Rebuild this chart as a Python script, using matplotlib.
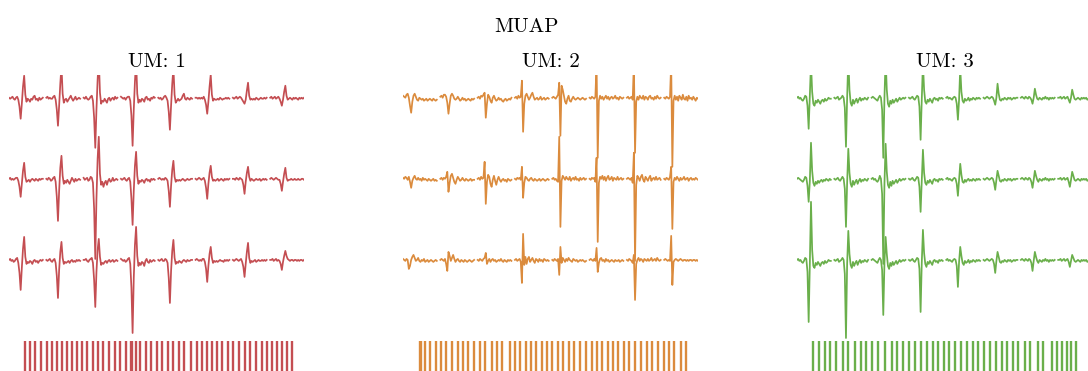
import numpy as np
import matplotlib.pyplot as plt

plt.rcParams['font.family'] = 'serif'
plt.rcParams['font.serif'] = ['cmr10']
plt.rcParams['mathtext.fontset'] = 'cm'
plt.rcParams['axes.unicode_minus'] = False

units = ['UM: 1', 'UM: 2', 'UM: 3']
colors = ['#C44E52', '#DB8B3D', '#6AAF4B']

# Averaged MUAP per electrode (3 rows x 8 columns), amplitude in a.u.
um1_muap = [
    [[0, -1, 0, 1, -1, -2, 0, 1, -2, -9, -21, -6, 11, 22, 3, -4, -1, -2, -4, -1, -2, 1, 2, -2, -1, -3, 0, -2, -1, 0],
     [0, 1, -1, 0, -1, -1, 1, 2, -2, -12, -28, -8, 14, 32, 4, -5, -2, -1, -4, -2, 0, 2, -1, -3, -1, 1, -2, -1, 0, -1],
     [0, -1, 1, -1, -2, -1, 1, 2, -3, -20, -50, -12, 18, 40, 5, -6, -3, -4, -1, -3, -5, -1, 0, -3, -1, 0, -2, 1, -1, 0],
     [1, 0, -1, 0, -2, 0, 1, 1, -3, -18, -48, -12, 16, 38, 4, -5, -2, -4, -1, -2, -4, 0, 1, -2, -1, -3, 0, -1, 1, 0],
     [0, -1, 0, -2, -1, 1, 2, 0, -3, -14, -32, -8, 14, 30, 3, -5, -3, -1, -3, -2, -1, 2, 4, -1, -2, 0, -1, -2, 0, -1],
     [0, 0, -1, 0, -1, 0, -1, 1, -2, -7, -16, -4, 11, 23, 3, -3, -1, -2, -2, -1, -2, 0, -1, -2, -1, -1, 0, -1, 0, -1],
     [0, -1, 0, 1, -1, 0, 1, 0, -2, -4, -6, -2, 7, 15, 2, -2, -1, -2, -1, -2, 0, -1, -2, -1, 0, -1, -1, 0, -1, 0],
     [0, 1, -1, 0, 1, -1, 0, 1, -1, -4, -8, -2, 6, 12, 2, -2, -1, 0, -1, -2, 0, -1, 0, -1, -2, 0, -1, 0, -1, 0]],
    [[0, 1, -1, 0, -1, 0, 1, 1, -2, -8, -18, -5, 8, 16, 2, -3, -2, -1, -3, -1, 0, -1, -2, 0, -1, -2, 0, -1, 0, 0],
     [0, -1, 1, 0, -2, -1, 1, 2, -3, -18, -42, -12, 11, 23, 3, -5, -2, -4, -1, -3, -5, -2, 1, -1, -3, 0, -2, -1, 0, -1],
     [1, -1, 0, 1, -2, -1, 2, 1, -4, -30, -80, -20, 20, 42, 5, -6, -3, -8, -4, -2, -6, -2, 0, -3, -2, 1, -2, -1, 0, -1],
     [0, -1, 0, 1, -1, -2, 0, 1, -3, -20, -46, -12, 13, 27, 3, -5, -2, -3, -1, -2, -4, -1, 0, -2, -1, -3, 0, -1, 0, -1],
     [0, 1, 0, -1, 0, -1, 1, 0, -2, -12, -28, -7, 9, 18, 2, -3, -1, -2, -1, -2, -1, 0, -1, -2, -1, 0, -1, -1, 0, 0],
     [0, -1, 0, 1, 0, -1, 0, 1, -2, -9, -20, -5, 6, 13, 2, -2, -1, -2, -1, 0, -2, -1, 0, -1, -2, 0, -1, 0, -1, 0],
     [0, 0, -1, 1, 0, -1, 1, 0, -1, -6, -15, -3, 6, 12, 2, -2, 0, -1, -2, -1, 0, -1, -1, 0, -2, -1, 0, -1, 0, -1],
     [0, 1, 0, -1, 0, 1, 0, -1, -1, -5, -12, -3, 5, 11, 1, -2, -1, -1, 0, -1, -1, 0, -1, -1, 0, -1, -1, 0, 0, -1]],
    [[0, 1, -1, 0, -2, -1, 1, 2, -3, -13, -30, -8, 11, 23, 3, -4, -2, -3, -1, -2, -4, -1, 0, -2, -1, -3, -1, 0, -1, 0],
     [0, -1, 0, 1, -1, -2, 0, 1, -3, -16, -38, -10, 8, 18, 2, -4, -2, -3, -2, -1, -3, -1, 0, -2, -1, -2, 0, -1, 0, -1],
     [0, 0, 1, -1, -2, 0, 1, 2, -3, -20, -47, -12, 10, 21, 3, -5, -3, -4, -2, -1, -3, -1, 0, -2, -1, 0, -2, -1, 0, -1],
     [1, 0, -1, 0, -2, -1, 1, 2, -4, -28, -73, -18, 15, 33, 4, -6, -3, -5, -2, -3, -6, -1, 1, -2, -3, 0, -2, -1, 0, -1],
     [0, -1, 0, 1, -1, -1, 1, 0, -3, -18, -43, -11, 9, 20, 2, -4, -2, -3, -1, -2, -3, -1, 0, -1, -2, 0, -1, -1, 0, 0],
     [0, 1, 0, -1, 0, -1, 1, 1, -2, -9, -22, -6, 6, 13, 2, -3, -1, -2, -1, -2, -1, 0, -1, -1, -2, 0, -1, 0, -1, 0],
     [0, -1, 0, 1, 0, -1, 0, 1, -2, -7, -17, -4, 8, 17, 2, -3, -1, -2, -1, 0, -2, -1, 0, -1, -1, 0, -1, 0, -1, 0],
     [0, 0, 1, -1, 0, 1, -1, 0, -1, -4, -10, -2, 4, 9, 4, 1, 0, -1, 0, 0, -1, 0, 0, -1, 0, -1, 0, 0, -1, 0]],
]

um2_muap = [
    [[2, 1, 0, 3, 4, 0, -8, -15, -4, 2, 4, 1, -2, -3, 0, -1, -2, -1, -3, -2, -1, -3, -2, -1, -2, -3, -1, -2, -3, -2],
     [1, 2, 0, 3, 3, 1, -5, -16, -6, 2, 4, 2, -1, -2, -1, 1, -1, -3, -2, 0, -2, -1, -3, -2, -1, -2, -3, -1, -2, -1],
     [0, 1, -1, 2, 1, 3, 5, -20, -6, 3, 1, -3, -5, 0, 2, -1, -3, -2, 0, -2, -1, -3, -4, -2, -1, -3, -2, -1, -2, 0],
     [0, 1, -1, 2, 0, 1, 17, -34, -6, 2, 4, 1, -2, 0, 3, 5, 1, -2, -1, 0, -2, -1, 1, -2, -1, 0, -2, -1, 0, -1],
     [0, 1, 0, -1, 1, 3, 15, -38, 12, 8, 2, -4, -6, -1, 2, -3, -4, -1, 1, -1, -2, -1, 0, -1, -2, -1, 0, -1, -2, -1],
     [0, -1, 1, 0, -1, 1, 35, -60, -3, 2, -1, 1, -2, 0, 2, -1, 1, -2, 0, 1, -1, 0, 2, -1, 0, -2, 1, 0, -1, 0],
     [0, 1, -1, 0, 1, -2, 35, -55, -4, 1, -2, 2, 0, -1, 2, -2, 1, 0, -2, 1, 2, -1, 0, -2, 1, -1, 2, 0, -1, 0],
     [0, -1, 1, 0, -1, 1, 35, -69, -3, 2, -2, 1, -3, 2, 0, -2, 3, -1, -2, 1, -3, 2, -1, 0, -2, 1, -1, -3, 0, -1]],
    [[1, 0, 2, 1, -1, 2, -3, -9, -2, 1, 3, 0, -1, 1, -1, 0, -2, 1, -1, 0, -1, -2, 0, -1, -2, -1, 0, -2, -1, -2],
     [0, 1, -1, 1, 0, 2, 7, -13, -4, 3, 5, 1, -3, -5, -1, 2, 0, -2, -1, 1, -1, -2, 0, -1, -2, -1, 0, -2, -1, -1],
     [0, 1, -1, 2, 0, 1, 17, -25, -3, 4, 2, -5, -8, -1, 3, -2, -6, -1, 2, -1, -3, -1, 0, -2, -1, -3, 0, -1, -2, -1],
     [0, -1, 1, 0, 1, -1, 12, -19, -4, 2, 1, -1, -2, 0, 1, -1, -2, 0, -1, -2, -1, 0, -2, -1, 0, -1, -2, -1, 0, -1],
     [0, 1, -1, 0, -2, -3, 42, -48, -2, 3, 1, -1, 2, 0, -1, 2, -2, 0, 1, -1, 2, -1, 0, -2, 1, -1, 0, 1, -1, 0],
     [0, -1, 1, 0, 1, -3, 21, -63, -4, 2, 0, 3, -1, 2, -2, 1, 3, -1, 0, 2, -2, 1, 0, -1, 2, -1, 0, 1, -1, 0],
     [0, 1, 0, -1, 1, -4, 26, -82, -6, 3, 1, -2, 2, 4, -1, -3, 2, 0, -2, 1, 3, -2, 0, 1, -1, 2, -1, 0, 1, -1],
     [0, -1, 1, 0, -1, 2, 12, -50, -3, 1, -1, 2, 0, -2, 1, -1, 0, 2, -1, 0, 1, -2, 0, 1, -1, 0, -1, 1, 0, -1]],
    [[1, 0, -1, 1, 0, -9, -6, 0, 3, 5, 2, -1, 0, 2, -1, -2, 0, -1, 1, -2, -1, 0, -2, -1, 0, -1, -2, -1, 0, -1],
     [0, 1, 0, -1, 1, -4, -11, 8, 4, -1, 2, 5, 1, -2, 0, 1, -1, -2, 0, -1, -2, 0, -1, -2, -1, 0, -1, -2, -1, 0],
     [0, -1, 1, 0, -1, 1, 2, 7, -4, -1, 1, -2, 0, 1, -1, 0, -2, -1, 0, -1, 1, -1, -2, 0, -1, -2, 0, -1, 0, -1],
     [0, 1, -1, 0, 1, -2, -23, 26, -5, 3, -4, 1, 3, -2, 0, 2, -1, -3, 1, 0, -2, 1, -1, 0, -2, 1, 0, -1, 0, -1],
     [0, -1, 1, 0, -1, 1, -15, 13, -3, 2, 0, -2, 1, -1, 2, 0, -1, -2, 1, 0, -1, 0, -2, -1, 0, -1, 0, -1, -2, -1],
     [0, 1, 0, -1, 1, -1, 12, -12, -3, 1, 2, -1, 0, -2, 1, -1, 0, -2, -1, 0, -1, -2, 0, -1, -1, 0, -2, -1, 0, -1],
     [0, -1, 1, 0, -1, -3, 5, -40, -4, 0, 2, -1, 1, 0, -2, 1, 0, -1, 1, -1, 0, 2, -1, 0, 1, -1, 2, 0, -1, 0],
     [0, 1, 0, -1, 0, -1, 24, -25, -2, 0, 1, 0, -1, 0, 1, 0, -1, 0, 0, -1, 0, -1, 0, 0, -1, 0, 0, -1, 0, -1]],
]

um3_muap = [
    [[0, 1, -1, 0, -2, -3, -1, 2, 1, -8, -31, 2, 35, 6, -6, -8, -3, -5, -2, -4, -6, -3, -2, -4, -1, -3, -2, 0, -1, -1],
     [0, -1, 0, 1, -2, -1, 0, 2, 0, -10, -49, 0, 40, 8, -5, -8, -2, -6, -3, -1, -5, -2, 0, -3, -1, -2, 0, -1, -2, 0],
     [0, 1, 0, -1, -2, -3, 0, 2, 0, -12, -60, 0, 40, 8, -6, -9, -3, -6, -2, -5, -3, -1, -4, -2, 0, -2, -1, 0, -1, 0],
     [0, -1, 0, 1, -1, -2, 0, 2, 1, -9, -42, -2, 35, 8, -4, -6, -2, -4, -1, -3, -5, -1, 0, -2, -1, -3, 0, -1, 0, -1],
     [0, 1, -1, 0, -1, -2, 0, 1, 0, -6, -22, -2, 30, 6, -3, -5, -1, -3, -2, 0, -3, -1, -2, 0, -1, -2, 0, -1, 0, -1],
     [0, -1, 0, 1, 0, -1, 0, 1, 0, -3, -7, 0, 14, 4, -2, -3, -1, -2, 0, -1, -2, 0, -1, 0, -2, -1, 0, -1, 0, 0],
     [0, 1, 0, -1, 1, 0, -1, 1, 0, -2, -6, 0, 9, 3, -1, -2, 0, -1, -2, 0, -1, 1, -1, 0, -2, 0, -1, 0, -1, 0],
     [0, 0, 1, -1, 0, 1, -1, 0, 1, -2, -5, 0, 8, 3, -1, -2, -1, 0, -1, -2, 0, -1, 0, -1, 0, -2, -1, 0, -1, 0]],
    [[0, 1, 0, -1, -2, -3, -1, 2, 1, -7, -23, -2, 36, 8, -4, -7, -3, -5, -2, -4, -2, -1, -3, -1, -2, 0, -1, -2, 0, -1],
     [0, -1, 0, 1, -1, -2, 0, 2, 0, -10, -48, -4, 30, 6, -5, -8, -2, -6, -3, -1, -5, -2, 0, -3, -1, -2, 0, -1, -2, 0],
     [0, 1, -1, 0, -2, -3, -1, 3, 0, -15, -85, -5, 35, 7, -6, -9, -3, -7, -2, -5, -3, -1, -4, -2, 0, -2, -1, 0, -1, 0],
     [0, -1, 0, 1, -1, -2, 0, 2, 1, -8, -33, -2, 29, 6, -4, -6, -2, -4, -1, -3, -5, -1, 0, -2, -1, -3, 0, -1, 0, -1],
     [0, 1, -1, 0, -1, -2, 0, 1, 0, -5, -17, -1, 15, 4, -3, -4, -1, -3, -1, 0, -2, -1, -2, 0, -1, -2, 0, -1, 0, -1],
     [0, -1, 0, 1, 0, -1, 0, 1, 0, -4, -11, -1, 8, 3, -2, -3, -1, -2, 0, -1, -2, 0, -1, 0, -2, -1, 0, -1, 0, 0],
     [0, 1, 0, -1, 1, 0, -1, 1, 0, -3, -9, -1, 8, 3, -1, -3, 0, -1, -2, 0, -1, 1, -1, 0, -2, 0, -1, 0, -1, 0],
     [0, 0, 1, -1, 0, 1, -1, 0, 1, -3, -8, -1, 7, 3, -1, -2, -1, 0, -1, -2, 0, -1, 0, -1, 0, -2, -1, 0, -1, 0]],
    [[0, 1, -1, 0, -2, -3, -1, 2, 1, -12, -62, -4, 58, 10, -6, -8, -3, -5, -2, -4, -6, -3, -2, -4, -1, -3, -2, 0, -1, -1],
     [0, -1, 0, 1, -2, -1, 0, 2, 0, -14, -78, -4, 29, 6, -5, -8, -2, -6, -3, -1, -5, -2, 0, -3, -1, -2, 0, -1, -2, 0],
     [0, 1, 0, -1, -2, -3, 0, 2, 0, -10, -55, -3, 23, 6, -6, -9, -3, -6, -2, -5, -3, -1, -4, -2, 0, -2, -1, 0, -1, 0],
     [0, -1, 0, 1, -1, -2, 0, 2, 1, -9, -52, -3, 30, 7, -4, -7, -2, -4, -1, -3, -5, -1, 0, -2, -1, -3, 0, -1, 0, -1],
     [0, 1, -1, 0, -1, -2, 0, 1, 0, -6, -27, -2, 13, 4, -3, -5, -1, -3, -2, 0, -3, -1, -2, 0, -1, -2, 0, -1, 0, -1],
     [0, -1, 0, 1, 0, -1, 0, 1, 0, -4, -13, -1, 8, 3, -2, -3, -1, -2, 0, -1, -2, 0, -1, 0, -2, -1, 0, -1, 0, 0],
     [0, 1, 0, -1, 1, 0, -1, 1, 0, -3, -11, -1, 8, 3, -1, -3, 0, -1, -2, 0, -1, 1, -1, 0, -2, 0, -1, 0, -1, 0],
     [0, 0, 1, -1, 0, 1, -1, 0, 1, -2, -7, -1, 5, 2, -1, -2, -1, 0, -1, -2, 0, -1, 0, -1, 0, -2, -1, 0, -1, 0]],
]

# Discharge times (s)
um1_spikes = [0.54, 0.71, 0.88, 1.07, 1.27, 1.44, 1.61, 1.78, 1.95, 2.12, 2.31, 2.48,
              2.65, 2.85, 3.02, 3.19, 3.38, 3.58, 3.75, 3.94, 4.11, 4.17, 4.28, 4.43,
              4.62, 4.79, 4.99, 5.16, 5.38, 5.55, 5.74, 5.91, 6.14, 6.34, 6.51, 6.70,
              6.85, 7.02, 7.21, 7.39, 7.58, 7.78, 7.97, 8.14, 8.33, 8.56, 8.71, 8.88,
              9.04, 9.21, 9.38, 9.55]
um2_spikes = [0.57, 0.61, 0.74, 0.91, 1.11, 1.28, 1.46, 1.65, 1.86, 2.02, 2.21, 2.41,
              2.60, 2.78, 3.02, 3.19, 3.36, 3.60, 3.78, 3.95, 4.14, 4.31, 4.48, 4.69,
              4.88, 5.05, 5.23, 5.42, 5.61, 5.78, 5.98, 6.17, 6.38, 6.55, 6.71, 6.91,
              7.11, 7.28, 7.47, 7.65, 7.84, 8.03, 8.24, 8.41, 8.61, 8.81, 9.00, 9.17,
              9.38, 9.57]
um3_spikes = [0.54, 0.75, 0.94, 1.13, 1.33, 1.54, 1.73, 1.95, 2.15, 2.33, 2.52, 2.75,
              2.97, 3.20, 3.39, 3.59, 3.80, 3.99, 4.19, 4.38, 4.59, 4.78, 4.95, 5.15,
              5.34, 5.53, 5.74, 5.94, 6.13, 6.33, 6.52, 6.71, 6.92, 7.11, 7.29, 7.48,
              7.70, 7.87, 8.15, 8.32, 8.60, 8.77, 8.94, 9.11, 9.26, 9.42]

muaps = [um1_muap, um2_muap, um3_muap]
spikes = [um1_spikes, um2_spikes, um3_spikes]

W, H = 1088, 371
fig = plt.figure(figsize=(W / 100, H / 100), dpi=100)

row_step = 81      # vertical spacing between electrode rows (a.u.)
col_step = 32      # horizontal spacing between electrode columns (samples)
panel_left = [9, 403, 797]
panel_w = 295

for k in range(3):
    left = panel_left[k] / W
    ax = fig.add_axes([left, 30 / H, panel_w / W, 266 / H])
    for r, row in enumerate(muaps[k]):
        for c, wf in enumerate(row):
            x = c * col_step + np.arange(len(wf))
            ax.plot(x, np.asarray(wf) - r * row_step, color=colors[k], lw=1.25,
                    solid_joinstyle='round')
    ax.set_xlim(0, 7 * col_step + 29)
    ax.set_ylim(-3 * row_step, 22.7)
    ax.axis('off')
    ax.set_title(units[k], fontsize=15, pad=6)

    rax = fig.add_axes([left, 0, (panel_w + 1) / W, 30 / H])
    rax.vlines(spikes[k], 0, 1, color=colors[k], lw=1.7)
    rax.set_xlim(0, 10)
    rax.set_ylim(0, 1)
    rax.axis('off')

fig.text(526 / W, 1 - 31.7 / H, 'MUAP', ha='center', va='baseline', fontsize=15)

fig.savefig('out.png', dpi=100)
